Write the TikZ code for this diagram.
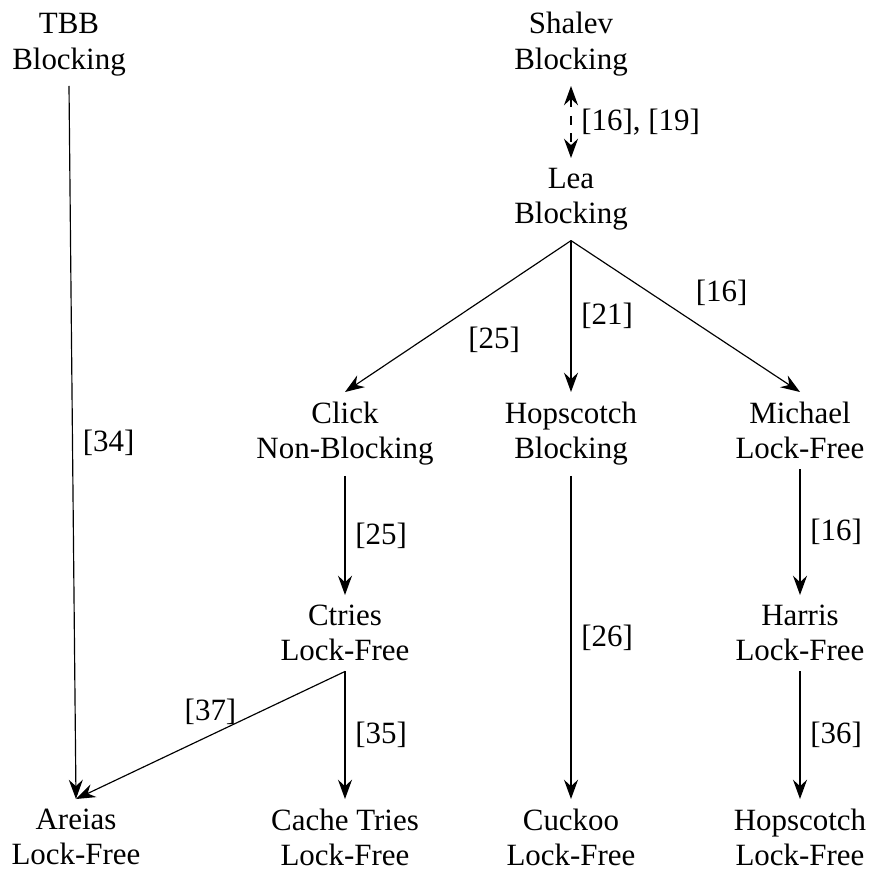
\documentclass[tikz,border=0pt]{standalone}
\usepackage{fontspec}
\setmainfont{Liberation Serif}
\usetikzlibrary{arrows.meta}
\begin{document}
\begin{tikzpicture}[x=0.3425pt, y=-0.3425pt,
  every node/.style={align=center, font=\fontsize{10.6}{12}\selectfont},
  head/.style={Stealth[length=6.6pt,width=4.8pt,inset=2.2pt]},
  link/.style={-{Stealth[length=6.6pt,width=4.8pt,inset=2.2pt]}},
  both/.style={dashed,{Stealth[length=6.6pt,width=4.8pt,inset=2.2pt]}-{Stealth[length=6.6pt,width=4.8pt,inset=2.2pt]}}]
\useasboundingbox (0,0) rectangle (871,871);

% top row
\node[anchor=south] (tbb)    at (69,86)  {TBB\\Blocking};
\node[anchor=south] (shalev) at (571,86) {Shalev\\Blocking};
% second row
\node[anchor=north] (lea)    at (571,158) {Lea\\Blocking};
% third row
\node[anchor=north] (click)  at (345,392) {Click\\Non-Blocking};
\node[anchor=north] (hop)    at (571,392) {Hopscotch\\Blocking};
\node[anchor=north] (michael) at (800,392) {Michael\\Lock-Free};
% fourth row
\node[anchor=north] (ctries) at (345,595) {Ctries\\Lock-Free};
\node[anchor=north] (harris) at (800,595) {Harris\\Lock-Free};
% bottom row
\node[anchor=north] (areias) at (76,799)  {Areias\\Lock-Free};
\node[anchor=north] (cache)  at (345,799) {Cache Tries\\Lock-Free};
\node[anchor=north] (cuckoo) at (571,799) {Cuckoo\\Lock-Free};
\node[anchor=north] (hoplf)  at (800,799) {Hopscotch\\Lock-Free};

% connectors
\draw[both] (shalev.south) -- node[right] {[16], [19]} (lea.north);
\draw[link] (tbb.south) -- node[right] {[34]} (areias.north);
\draw[link] (lea.south) -- node[below right] {[25]} (click.north);
\draw[link] (lea.south) -- node[right] {[21]} (hop.north);
\draw[link] (lea.south) -- node[above right] {[16]} (michael.north);
\draw[link] (click.south) -- node[right] {[25]} (ctries.north);
\draw[link] (hop.south) -- node[right] {[26]} (cuckoo.north);
\draw[link] (michael.south) -- node[right] {[16]} (harris.north);
\draw[link] (ctries.south) -- node[above] {[37]} (areias.north);
\draw[link] (ctries.south) -- node[right] {[35]} (cache.north);
\draw[link] (harris.south) -- node[right] {[36]} (hoplf.north);
\end{tikzpicture}
\end{document}
